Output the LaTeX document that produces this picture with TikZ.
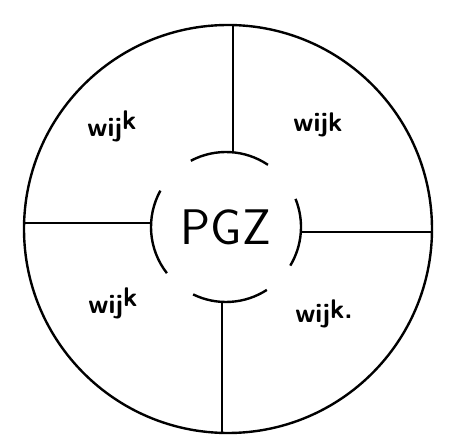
\documentclass[tikz,border=0pt]{standalone}
\usepackage{tikz}
\usetikzlibrary{positioning}

\begin{document}
\begin{tikzpicture}[
    x=1pt, y=-1pt,
    line width=2.4pt,
    ring/.style={draw, circle, minimum size=408pt, inner sep=0pt},
    hub/.style={circle, minimum size=150pt, inner sep=0pt,
                font=\sffamily\fontsize{50}{56}\selectfont},
    lbl/.style={font=\sffamily\bfseries\fontsize{27}{30}\selectfont}
  ]
  \useasboundingbox (0,0) rectangle (451,441);

  \node[ring] (outer) at (228,229) {};
  \node[hub]  (pgz)   at (226,227) {PGZ};

  % open arcs round the centre
  \draw ([shift={(56:75pt)}]pgz.center)  arc[start angle=56,  end angle=118, radius=75pt];
  \draw ([shift={(151:75pt)}]pgz.center) arc[start angle=151, end angle=218, radius=75pt];
  \draw ([shift={(-31:75pt)}]pgz.center) arc[start angle=-31, end angle=22,  radius=75pt];
  \draw ([shift={(244:75pt)}]pgz.center) arc[start angle=244, end angle=303, radius=75pt];

  % spokes
  \draw ([xshift=5pt]outer.north) -- ([xshift=7pt]pgz.north);
  \draw ([xshift=-6pt]outer.south) -- ([xshift=-4pt]pgz.south);
  \draw ([yshift=6pt]outer.west) -- ([yshift=4pt]pgz.west);
  \draw ([yshift=-3pt]outer.east) -- ([yshift=-5pt]pgz.east);

  \node[lbl] (w1) at (112,126) {wij\raisebox{0.55ex}{k}};
  \node[lbl] (w2) at (318,125) {wijk};
  \node[lbl] (w3) at (113,303) {wij\raisebox{0.55ex}{k}};
  \node[lbl] (w4) at (324,314) {wij\raisebox{0.35ex}{k.}};
\end{tikzpicture}
\end{document}
